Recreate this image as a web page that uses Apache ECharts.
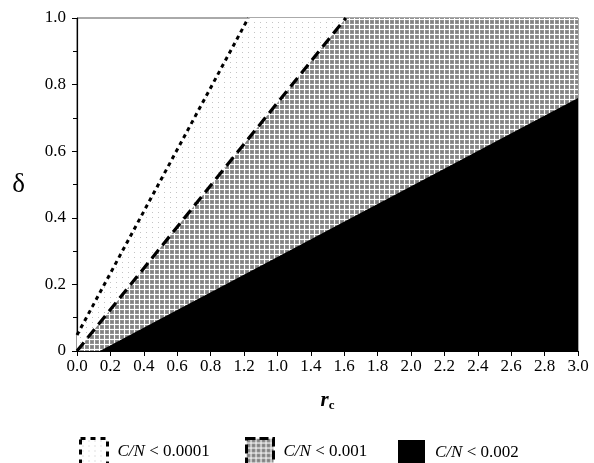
<!DOCTYPE html>
<html>
<head>
<meta charset="utf-8">
<script src="https://cdn.jsdelivr.net/npm/echarts@6/dist/echarts.min.js"></script>
<style>
html,body{margin:0;padding:0;background:#fff;}
#chart{width:594px;height:463px;}
</style>
</head>
<body>
<div id="chart"></div>
<script>
// ---- data ----
const xTickLabels = ['0.0','0.2','0.4','0.6','0.8','1.2','1.0','1.4','1.6','1.8','2.0','2.2','2.4','2.6','2.8','3.0'];
const yTickLabels = ['0','0.2','0.4','0.6','0.8','1.0'];
const xMax = 3.0;
const yMax = 1.0;
// boundary lines (r_c, delta)
const dottedBoundary = [[0, 0.048], [1.026, 1.0]];   // C/N < 0.0001
const dashedBoundary = [[0, 0.0], [1.61, 1.0]];      // C/N < 0.001
const blackBoundary  = [[0.136, 0.0], [3.0, 0.76]];  // C/N < 0.002
const seriesNames = ['C/N < 0.0001', 'C/N < 0.001', 'C/N < 0.002'];

// ---- patterns ----
function makePattern(w, h, draw) {
  const c = document.createElement('canvas');
  c.width = w; c.height = h;
  const g = c.getContext('2d');
  draw(g, w, h);
  return c;
}
const lightPat = makePattern(6, 5, (g, w, h) => {
  g.fillStyle = '#ffffff'; g.fillRect(0, 0, w, h);
  g.fillStyle = '#c4c4c4'; g.fillRect(2, 2, 1, 1);
});
const grayPat = makePattern(5, 5, (g, w, h) => {
  g.fillStyle = '#ffffff'; g.fillRect(0, 0, w, h);
  g.fillStyle = '#939393'; g.fillRect(0, 0, 4, 4);
  g.fillStyle = '#808080'; g.fillRect(1, 1, 2, 2);
});

function closeToTop(pts) {
  const last = pts[pts.length - 1];
  const out = pts.slice();
  if (last[1] >= yMax && last[0] < xMax) out.push([xMax, yMax]);
  return out;
}

const serif = 'Liberation Serif';
const chart = echarts.init(document.getElementById('chart'), null, {renderer: 'canvas'});

const legendBase = {
  orient: 'horizontal',
  itemWidth: 27,
  itemHeight: 26,
  icon: 'rect',
  selectedMode: false,
  textStyle: {
    fontFamily: serif, fontSize: 17, color: '#000', padding: [0, 0, 0, 5],
    rich: { i: { fontFamily: serif, fontSize: 17, fontStyle: 'italic', color: '#000' } }
  },
  formatter: n => n.replace('C/N', '{i|C/N}')
};

const option = {
  backgroundColor: '#fff',
  animation: false,
  grid: { left: 77, right: 16, top: 18, bottom: 112, show: true, borderColor: '#555', borderWidth: 1, backgroundColor: 'transparent' },
  xAxis: {
    type: 'value', min: 0, max: xMax, interval: 0.2,
    name: '{r|r}{c|c}',
    nameLocation: 'middle', nameGap: 39,
    nameTextStyle: {
      rich: {
        r: { fontFamily: serif, fontSize: 21, fontWeight: 'bold', fontStyle: 'italic', color: '#000' },
        c: { fontFamily: serif, fontSize: 13, fontWeight: 'bold', color: '#000', padding: [9, 0, 0, 0] }
      }
    },
    axisLine: { lineStyle: { color: '#000', width: 1.2 } },
    axisTick: { length: 5, lineStyle: { color: '#000' } },
    axisLabel: {
      margin: 7, fontFamily: serif, fontSize: 17, color: '#000',
      formatter: (v, i) => xTickLabels[Math.round(v / 0.2)]
    },
    splitLine: { show: false }
  },
  yAxis: {
    type: 'value', min: 0, max: yMax, interval: 0.2,
    name: 'δ', nameLocation: 'middle', nameGap: 52, nameRotate: 0,
    nameTextStyle: { fontFamily: serif, fontSize: 27, color: '#000' },
    axisLine: { show: true, lineStyle: { color: '#000', width: 1.2 } },
    axisTick: { show: true, length: 5, lineStyle: { color: '#000' } },
    minorTick: { show: true, splitNumber: 2, length: 4, lineStyle: { color: '#000' } },
    axisLabel: {
      margin: 11, fontFamily: serif, fontSize: 17, color: '#000',
      formatter: v => yTickLabels[Math.round(v / 0.2)]
    },
    splitLine: { show: false }
  },
  legend: [
    Object.assign({}, legendBase, { left: 74, top: 432, data: [{ name: seriesNames[0], itemStyle: { color: {image: lightPat, repeat: 'repeat'}, borderColor: '#000', borderWidth: 3, borderType: [5, 5] } }] }),
    Object.assign({}, legendBase, { left: 240, top: 432, data: [{ name: seriesNames[1], itemStyle: { color: {image: grayPat, repeat: 'repeat'}, borderColor: '#000', borderWidth: 3, borderType: [9, 4] } }] }),
    Object.assign({}, legendBase, { left: 393, top: 435, data: [{ name: seriesNames[2], itemStyle: { color: '#000', borderWidth: 0 } }] })
  ],
  series: [
    {
      name: seriesNames[0], type: 'line', data: closeToTop(dottedBoundary),
      showSymbol: false, symbol: 'none', lineStyle: { width: 0, opacity: 0 },
      areaStyle: { color: {image: lightPat, repeat: 'repeat'}, opacity: 1 }, z: 1
    },
    {
      name: seriesNames[1], type: 'line', data: closeToTop(dashedBoundary),
      showSymbol: false, symbol: 'none', lineStyle: { width: 0, opacity: 0 },
      areaStyle: { color: {image: grayPat, repeat: 'repeat'}, opacity: 1 }, z: 2
    },
    {
      name: seriesNames[2], type: 'line', data: blackBoundary,
      showSymbol: false, symbol: 'none', lineStyle: { width: 0, opacity: 0 },
      itemStyle: { color: '#000' },
      areaStyle: { color: '#000', opacity: 1 }, z: 3
    },
    {
      name: 'dotted', type: 'line', data: dottedBoundary, showSymbol: false, symbol: 'none',
      lineStyle: { color: '#000', width: 3, type: [4, 4] }, z: 4
    },
    {
      name: 'dashed', type: 'line', data: dashedBoundary, showSymbol: false, symbol: 'none',
      lineStyle: { color: '#000', width: 3.2, type: [11, 6] }, z: 4
    }
  ]
};
chart.setOption(option);
</script>
</body>
</html>
